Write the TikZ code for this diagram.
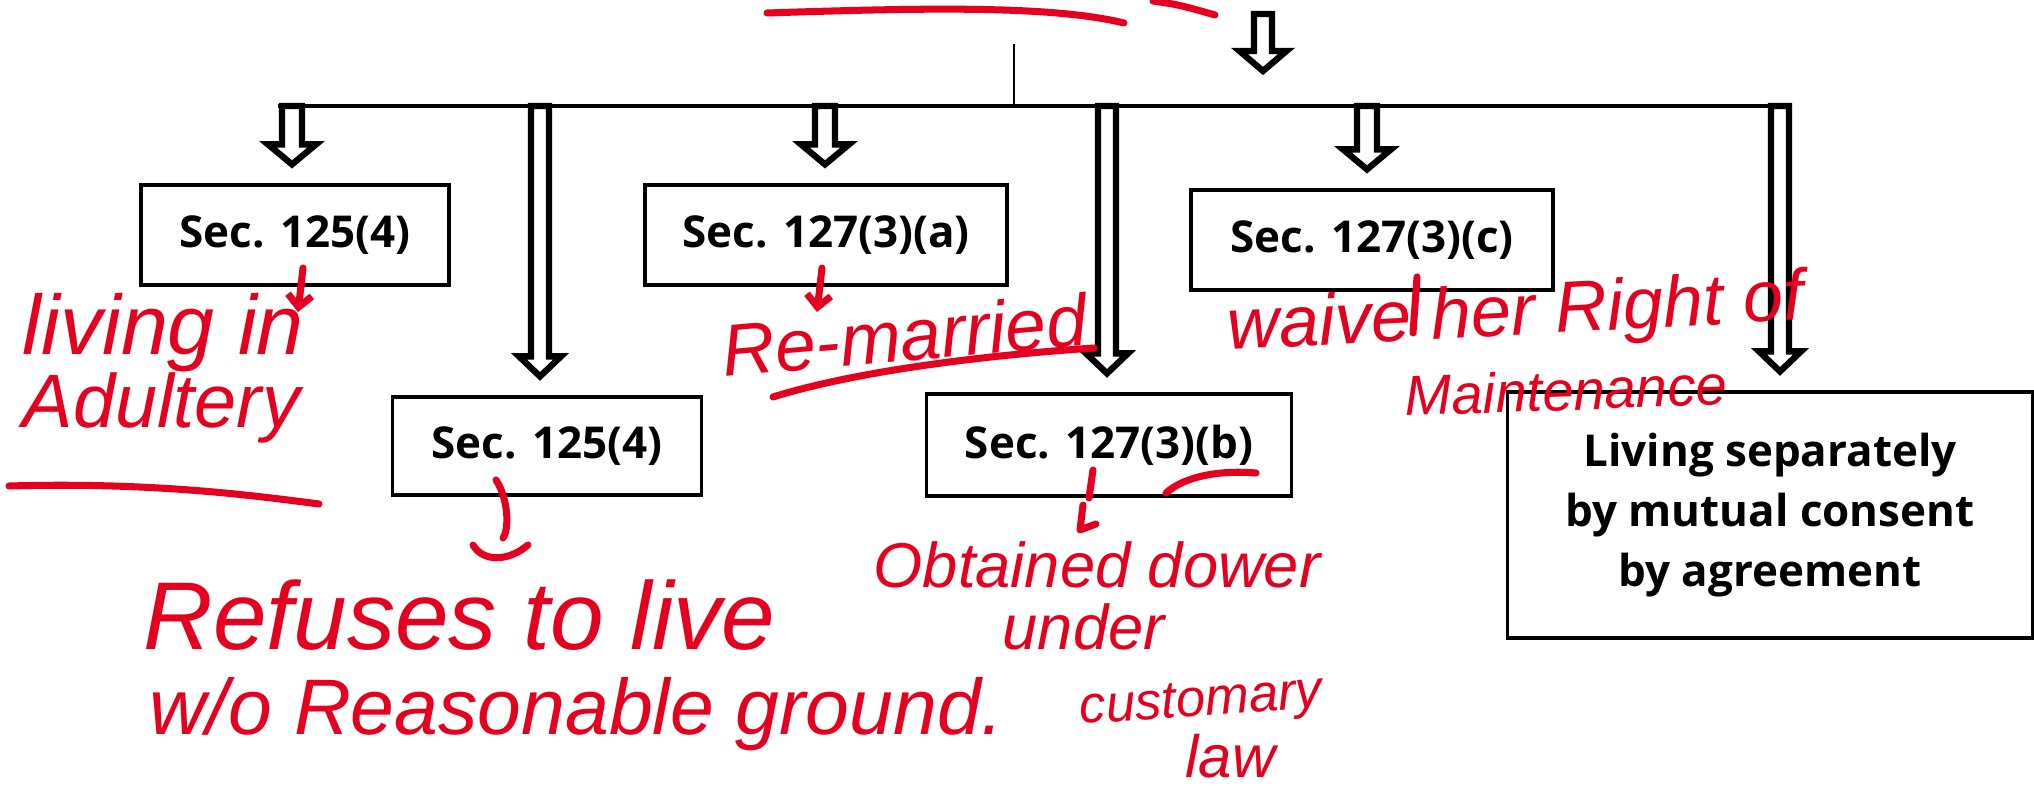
\documentclass[tikz,border=0pt]{standalone}
\usepackage{fontspec}
\setmainfont{Open Sans}
\newfontfamily\handfont{Liberation Sans}
\usetikzlibrary{calc,arrows.meta}

\definecolor{penred}{RGB}{228,0,30}

% hollow block arrow: #1 start on the bar, #2 tip, #3 half shaft width, #4 half head width
\newcommand{\hollowarrow}[4]{%
    \draw[blockarrow] let \p1=(#1), \p2=(#2) in
        (\x1-#3,\y1) -- (\x1-#3,\y2+2mm) -- (\x1-#4,\y2+2mm) -- (\x1,\y2)
        -- (\x1+#4,\y2+2mm) -- (\x1+#3,\y2+2mm) -- (\x1+#3,\y1) -- cycle;}

\begin{document}
\begin{tikzpicture}[
    box/.style={draw, line width=0.9pt, align=center, inner sep=0pt,
        font=\bfseries\fontsize{12.5}{17}\selectfont},
    blockarrow/.style={draw, fill=white, line width=1.8pt, line join=miter},
    hand/.style={text=penred, anchor=base west, inner sep=0pt,
        font=\handfont\itshape\fontsize{#1}{#1}\selectfont},
    pen/.style={penred, line width=2pt, line cap=round, line join=round}]

    \path[use as bounding box, fill=white] (0,0) rectangle (20.34,-7.86);

    % Sections
    \node[box, minimum width=3.08cm, minimum height=1.0cm] (s1254) at (2.95,-2.35) {Sec. 125(4)};
    \node[box, minimum width=3.62cm, minimum height=1.0cm] (s1273a) at (8.26,-2.35) {Sec. 127(3)(a)};
    \node[box, minimum width=3.62cm, minimum height=1.0cm] (s1273c) at (13.72,-2.40) {Sec. 127(3)(c)};
    \node[box, minimum width=3.09cm, minimum height=0.98cm] (s1254b) at (5.47,-4.46) {Sec. 125(4)};
    \node[box, minimum width=3.65cm, minimum height=1.02cm] (s1273b) at (11.09,-4.45) {Sec. 127(3)(b)};
    \node[box, minimum width=5.25cm, minimum height=2.46cm] (mutual) at (17.70,-5.15)
        {Living separately\\ by mutual consent\\ by agreement};

    % Bar and stem
    \coordinate (barL) at (2.78,-1.06);
    \coordinate (barR) at (17.88,-1.06);
    \coordinate (stem) at (10.14,-0.44);
    \draw[line width=1pt] (barL) -- (barR);
    \draw[line width=0.6pt] (stem) -- (stem |- barL);

    % Arrows
    \coordinate (topin) at (12.63,-0.14);
    \coordinate (topout) at (12.63,-0.71);
    \hollowarrow{topin}{topout}{0.9mm}{2.35mm}
    \foreach \xx/\target/\hs/\hh in {2.92/s1254/1mm/2.4mm, 8.25/s1273a/1mm/2.4mm,
        13.67/s1273c/1mm/2.4mm, 5.40/s1254b/0.9mm/2.1mm, 11.07/s1273b/0.9mm/2.1mm,
        17.80/mutual/0.9mm/2.1mm}
        \hollowarrow{\xx,-1.06}{$(\target.north)+(0,0.19)$}{\hs}{\hh};

    % Notes
    \node[hand=24] (adul1) at (0.22,-3.55) {living in};
    \node[hand=21.5] (adul2) at (0.22,-4.28) {Adultery};
    \node[hand=20.8, rotate=5] (remar) at (7.24,-3.77) {Re-married};
    \node[hand=20.5, rotate=3] (waive1) at (12.28,-3.50) {waive her Right of};
    \node[hand=16, rotate=2] (waive2) at (14.05,-4.16) {Maintenance};
    \node[hand=27.4] (refuse1) at (1.43,-6.50) {Refuses to live};
    \node[hand=22.4] (refuse2) at (1.49,-7.35) {w/o Reasonable ground.};
    \node[hand=18] (dower1) at (8.73,-5.88) {Obtained dower};
    \node[hand=18] (dower2) at (10.02,-6.50) {under};
    \node[hand=15, rotate=4] (dower3) at (10.80,-7.24) {customary};
    \node[hand=17] (dower4) at (11.85,-7.78) {law};

    % Pen strokes
    \draw[pen] (7.67,-0.13) .. controls (9.2,-0.08) and (10.5,-0.05) .. (11.24,-0.23);
    \draw[pen] (11.53,-0.01) .. controls (11.8,-0.05) .. (12.15,-0.15);
    \draw[pen, -{Straight Barb[length=1.2mm, width=2.4mm]}] (3.03,-2.68) -- (2.98,-3.12);
    \draw[pen, -{Straight Barb[length=1.2mm, width=2.4mm]}] (8.22,-2.68) -- (8.17,-3.12);
    \draw[pen] (14.17,-2.77) -- (14.13,-3.33);
    \draw[pen] (0.09,-4.86) .. controls (1.5,-4.82) and (2.5,-4.95) .. (3.19,-5.04);
    \draw[pen] (7.73,-3.97) .. controls (8.6,-3.7) and (9.9,-3.55) .. (10.94,-3.48);
    \draw[pen] (4.96,-4.80) .. controls (5.09,-5.0) and (5.09,-5.3) .. (5.03,-5.38);
    \draw[pen] (4.73,-5.45) .. controls (4.83,-5.62) and (5.08,-5.62) .. (5.28,-5.45);
    \draw[pen] (10.93,-4.70) -- (10.89,-4.98);
    \draw[pen] (10.83,-5.05) -- (10.80,-5.30) -- (10.96,-5.24);
    \draw[pen] (11.66,-4.93) .. controls (11.85,-4.76) and (12.2,-4.70) .. (12.56,-4.73);
\end{tikzpicture}
\end{document}
